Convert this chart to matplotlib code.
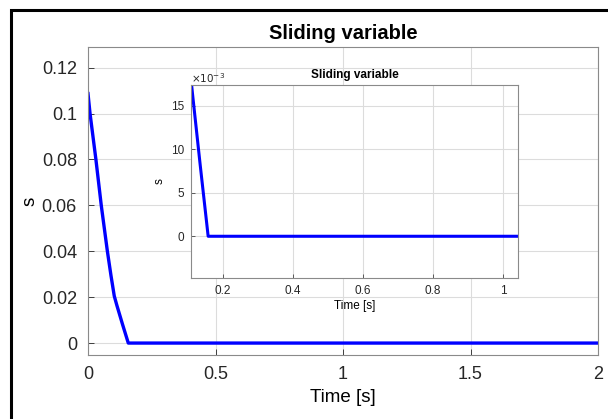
import matplotlib
matplotlib.use("Agg")
import matplotlib.pyplot as plt
from matplotlib.patches import Rectangle

plt.rcParams['font.family'] = ['Liberation Sans', 'DejaVu Sans']

time = [0.0, 0.008, 0.031, 0.052, 0.076, 0.09, 0.103, 0.113, 0.135, 0.158, 0.5, 1.0, 1.5, 2.0]
s_val = [0.1087, 0.1, 0.08, 0.06, 0.04, 0.0295, 0.0205, 0.0165, 0.0083, 0.0, 0.0, 0.0, 0.0, 0.0]

main_xticks = [0, 0.5, 1, 1.5, 2]
main_xticklabels = ['0', '0.5', '1', '1.5', '2']
main_yticks = [0, 0.02, 0.04, 0.06, 0.08, 0.1, 0.12]
main_yticklabels = ['0', '0.02', '0.04', '0.06', '0.08', '0.1', '0.12']
inset_xticks = [0.2, 0.4, 0.6, 0.8, 1.0]
inset_xticklabels = ['0.2', '0.4', '0.6', '0.8', '1']
inset_yticks = [0, 0.005, 0.010, 0.015]
inset_yticklabels = ['0', '5', '10', '15']

W, H = 608, 419
fig = plt.figure(figsize=(W / 100, H / 100), dpi=100)
fig.patch.set_facecolor('white')

def box(l, t, r, b):
    return [l / W, 1 - b / H, (r - l) / W, (b - t) / H]

grid_c = '#dcdcdc'

ax = fig.add_axes(box(88, 47, 598, 355))
ax.plot(time, s_val, color='#0000ff', lw=2.4, solid_joinstyle='round')
ax.set_xlim(0, 2)
ax.set_ylim(-0.0052, 0.129)
ax.set_xticks(main_xticks)
ax.set_xticklabels(main_xticklabels)
ax.set_yticks(main_yticks)
ax.set_yticklabels(main_yticklabels)
ax.grid(True, color=grid_c, lw=0.8)
ax.tick_params(labelsize=13, colors='#262626', direction='in', length=4, width=0.6, pad=8)
for sp in ax.spines.values():
    sp.set_color('#8a8a8a')
    sp.set_linewidth(0.8)
ax.set_title('Sliding variable', fontsize=14.5, fontweight='bold', pad=6)
ax.set_xlabel('Time [s]', fontsize=13.5, labelpad=4)
ax.set_ylabel('s', fontsize=13.5, labelpad=2)

ins = fig.add_axes(box(191, 85, 518, 278))
ins.plot(time, s_val, color='#0000ff', lw=2.2, solid_joinstyle='round')
ins.set_xlim(0.109, 1.043)
ins.set_ylim(-0.0048, 0.0174)
ins.set_xticks(inset_xticks)
ins.set_xticklabels(inset_xticklabels)
ins.set_yticks(inset_yticks)
ins.set_yticklabels(inset_yticklabels)
ins.grid(True, color=grid_c, lw=0.8)
ins.tick_params(labelsize=8.5, colors='#262626', direction='in', length=3, width=0.5, pad=5)
for sp in ins.spines.values():
    sp.set_color('#8a8a8a')
    sp.set_linewidth(0.8)
ins.set_title('Sliding variable', fontsize=8.5, fontweight='bold', pad=5)
ins.set_xlabel('Time [s]', fontsize=8.5, labelpad=2)
ins.set_ylabel('s', fontsize=8.5, labelpad=4)
ins.text(0.0, 1.0, r'$\times10^{-3}$', transform=ins.transAxes, fontsize=7.5,
         ha='left', va='bottom', color='#262626')

fig.patches.append(Rectangle((11 / W, -0.1), 1.2, 1 - 10 / H + 0.1, transform=fig.transFigure,
                             fill=False, edgecolor='black', lw=2.2, figure=fig))

fig.savefig('out.png', dpi=100)
